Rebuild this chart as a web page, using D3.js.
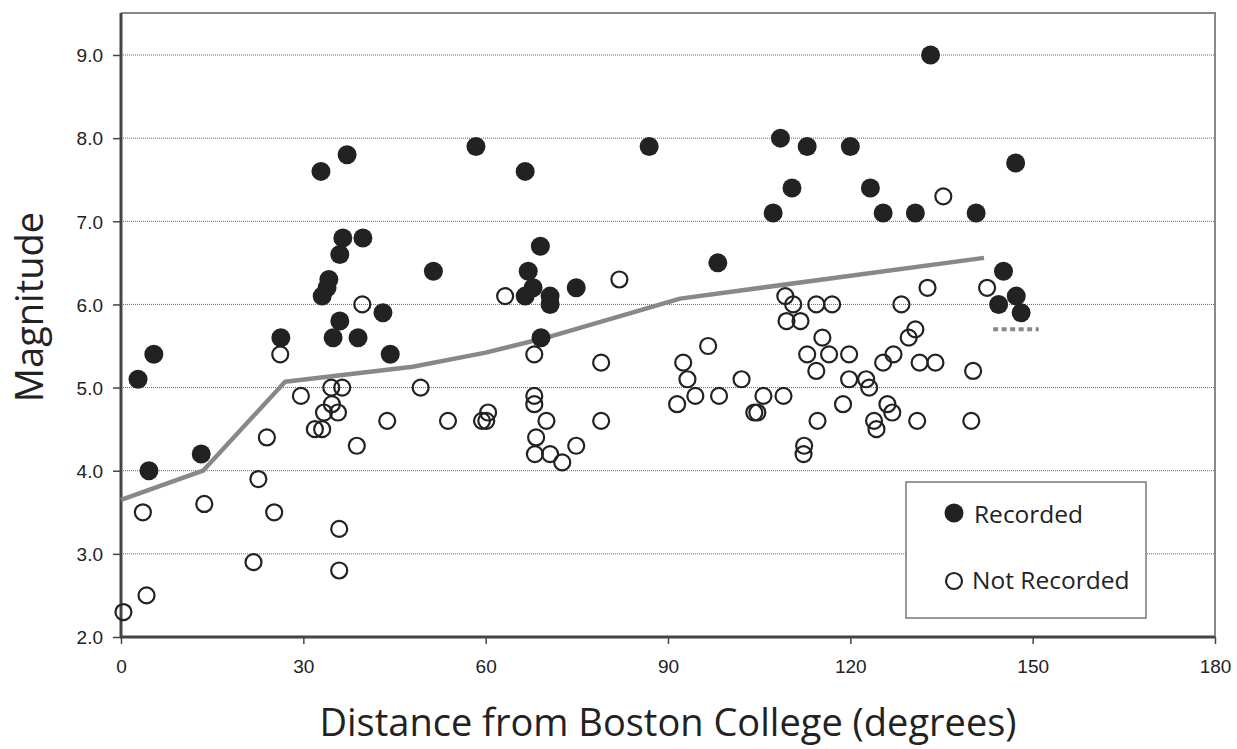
<!DOCTYPE html>
<html>
<head>
<meta charset="utf-8">
<title>Magnitude vs distance</title>
<script src="https://cdn.jsdelivr.net/npm/d3@7"></script>
<style>
  body { margin: 0; background: #fff; }
  svg text { fill: #222; }
</style>
</head>
<body>
<svg id="chart" width="1237" height="749"></svg>
<script>
// recorded events (filled)
var recDist = [2.8, 5.4, 4.6, 13.2, 26.3, 32.9, 37.2, 36.5, 39.8, 36.0, 34.2, 33.9, 33.1, 36.0, 34.9, 39.0,
  43.1, 44.3, 51.4, 58.4, 66.5, 67.0, 67.8, 69.0, 66.5, 70.6, 70.6, 69.1, 74.9, 86.9, 98.2,
  108.5, 112.9, 120.0, 110.4, 107.3, 123.3, 125.4, 130.7, 140.7, 133.2,
  147.2, 145.2, 147.3, 144.4, 148.1];
var recMag = [5.1, 5.4, 4.0, 4.2, 5.6, 7.6, 7.8, 6.8, 6.8, 6.6, 6.3, 6.2, 6.1, 5.8, 5.6, 5.6,
  5.9, 5.4, 6.4, 7.9, 7.6, 6.4, 6.2, 6.7, 6.1, 6.1, 6.0, 5.6, 6.2, 7.9, 6.5,
  8.0, 7.9, 7.9, 7.4, 7.1, 7.4, 7.1, 7.1, 7.1, 9.0,
  7.7, 6.4, 6.1, 6.0, 5.9];

// not recorded (open)
var notDist = [0.4, 4.2, 3.6, 13.7, 21.8, 22.6, 25.2, 24.0, 26.2, 29.6, 31.9, 33.1, 33.4, 34.7, 34.6, 36.4,
  35.7, 35.9, 35.9, 38.8, 43.8, 39.7, 49.3, 53.8, 59.4, 60.1, 60.4, 68.0, 68.0, 68.0, 70.0,
  68.3, 68.1, 70.6, 72.6, 74.9, 79.0, 79.0, 63.2, 82.0, 92.5, 93.2, 96.6, 91.5, 94.5, 98.4,
  102.1, 105.7, 104.2, 104.7, 109.0, 109.5, 111.8, 109.3, 110.6, 114.4, 117.0, 128.4, 132.7, 135.3, 142.5,
  115.4, 112.9, 116.5, 119.8, 114.4, 119.8, 122.6, 123.1, 118.8, 114.6, 112.4, 112.3,
  125.4, 127.1, 129.6, 130.7, 131.4, 134.0, 140.2, 126.1, 126.9, 123.9, 124.3, 131.0, 139.9];
var notMag = [2.3, 2.5, 3.5, 3.6, 2.9, 3.9, 3.5, 4.4, 5.4, 4.9, 4.5, 4.5, 4.7, 4.8, 5.0, 5.0,
  4.7, 3.3, 2.8, 4.3, 4.6, 6.0, 5.0, 4.6, 4.6, 4.6, 4.7, 5.4, 4.9, 4.8, 4.6,
  4.4, 4.2, 4.2, 4.1, 4.3, 5.3, 4.6, 6.1, 6.3, 5.3, 5.1, 5.5, 4.8, 4.9, 4.9,
  5.1, 4.9, 4.7, 4.7, 4.9, 5.8, 5.8, 6.1, 6.0, 6.0, 6.0, 6.0, 6.2, 7.3, 6.2,
  5.6, 5.4, 5.4, 5.4, 5.2, 5.1, 5.1, 5.0, 4.8, 4.6, 4.3, 4.2,
  5.3, 5.4, 5.6, 5.7, 5.3, 5.3, 5.2, 4.8, 4.7, 4.6, 4.5, 4.6, 4.6];

// threshold curve
var trendDist = [0, 13.5, 27, 48, 60, 70, 92, 142];
var trendMag = [3.65, 4.0, 5.07, 5.25, 5.42, 5.6, 6.07, 6.56];
// short dashed mark
var dashDist = [143.5, 151];
var dashMag = [5.7, 5.7];

var xTicks = [0, 30, 60, 90, 120, 150, 180];
var yTicks = [2, 3, 4, 5, 6, 7, 8, 9];

var svg = d3.select("#chart");
var pLeft = 121, pRight = 1215, pTop = 13, pBottom = 637;

var x = d3.scaleLinear().domain([0, 180]).range([pLeft, pRight]);
var y = d3.scaleLinear().domain([2, 9]).range([pBottom, 55]);

// grid
svg.append("g").selectAll("line")
  .data(yTicks.filter(function(d) { return d > 2; }))
  .enter().append("line")
  .attr("x1", pLeft).attr("x2", pRight)
  .attr("y1", function(d) { return y(d); })
  .attr("y2", function(d) { return y(d); })
  .attr("stroke", "#666").attr("stroke-width", 1)
  .attr("stroke-dasharray", "1,1");

// frame top/right
svg.append("path")
  .attr("d", "M" + pLeft + "," + pTop + "H" + pRight + "V" + pBottom)
  .attr("fill", "none").attr("stroke", "#888").attr("stroke-width", 2);

// axes
var xAxis = svg.append("g")
  .attr("transform", "translate(0," + pBottom + ")")
  .call(d3.axisBottom(x).tickValues(xTicks).tickSize(7).tickSizeOuter(0).tickFormat(d3.format("d")));
var yAxis = svg.append("g")
  .attr("transform", "translate(" + pLeft + ",0)")
  .call(d3.axisLeft(y).tickValues(yTicks).tickSize(8).tickSizeOuter(0).tickFormat(d3.format(".1f")));

[xAxis, yAxis].forEach(function(a) {
  a.attr("font-size", null).attr("font-family", null);
  a.select(".domain").attr("stroke", "#444").attr("stroke-width", 3);
  a.selectAll(".tick line").attr("stroke", "#444").attr("stroke-width", 1.5);
  a.selectAll(".tick text")
    .style("font-family", "'Liberation Sans', Arial, sans-serif")
    .style("font-size", "19px").attr("fill", "#222");
});
xAxis.selectAll(".tick text").attr("y", 36).attr("dy", 0);
yAxis.selectAll(".tick text").attr("x", -18).attr("dy", "0.36em");
// extend the domain lines so they meet at the corner
xAxis.select(".domain").attr("d", "M" + (pLeft - 1) + ",0H" + pRight);
yAxis.select(".domain").attr("d", "M0," + pTop + "V" + (pBottom + 1));

// trend line
var line = d3.line()
  .x(function(d) { return x(d[0]); })
  .y(function(d) { return y(d[1]); });
svg.append("path")
  .datum(d3.zip(trendDist, trendMag))
  .attr("d", line)
  .attr("fill", "none").attr("stroke", "#888").attr("stroke-width", 4.5)
  .attr("stroke-linejoin", "round");
svg.append("path")
  .datum(d3.zip(dashDist, dashMag))
  .attr("d", line)
  .attr("fill", "none").attr("stroke", "#888").attr("stroke-width", 4)
  .attr("stroke-dasharray", "5,3.5");

// open points
svg.append("g").selectAll("circle")
  .data(d3.zip(notDist, notMag))
  .enter().append("circle")
  .attr("cx", function(d) { return x(d[0]); })
  .attr("cy", function(d) { return y(d[1]); })
  .attr("r", 8)
  .attr("fill", "none").attr("stroke", "#222").attr("stroke-width", 2.2);

// filled points
svg.append("g").selectAll("circle")
  .data(d3.zip(recDist, recMag))
  .enter().append("circle")
  .attr("cx", function(d) { return x(d[0]); })
  .attr("cy", function(d) { return y(d[1]); })
  .attr("r", 9.5)
  .attr("fill", "#222");

// legend
var leg = svg.append("g");
leg.append("rect")
  .attr("x", 906).attr("y", 482).attr("width", 240).attr("height", 136)
  .attr("fill", "#fff").attr("stroke", "#555").attr("stroke-width", 1.2);
leg.append("circle").attr("cx", 954).attr("cy", 513).attr("r", 9.5).attr("fill", "#222");
leg.append("circle").attr("cx", 954).attr("cy", 581).attr("r", 8)
  .attr("fill", "none").attr("stroke", "#222").attr("stroke-width", 2.2);
leg.append("text").attr("x", 974).attr("y", 523).text("Recorded")
  .attr("font-family", "'Open Sans', sans-serif").attr("font-size", 24.5);
leg.append("text").attr("x", 972).attr("y", 589).text("Not Recorded")
  .attr("font-family", "'Open Sans', sans-serif").attr("font-size", 24.5);

// axis titles
svg.append("text")
  .attr("x", 668).attr("y", 736)
  .attr("text-anchor", "middle")
  .attr("font-family", "'Open Sans', sans-serif").attr("font-size", 38)
  .text("Distance from Boston College (degrees)");
svg.append("text")
  .attr("transform", "translate(43,307) rotate(-90)")
  .attr("text-anchor", "middle")
  .attr("font-family", "'Open Sans', sans-serif").attr("font-size", 38)
  .text("Magnitude");
</script>
</body>
</html>
